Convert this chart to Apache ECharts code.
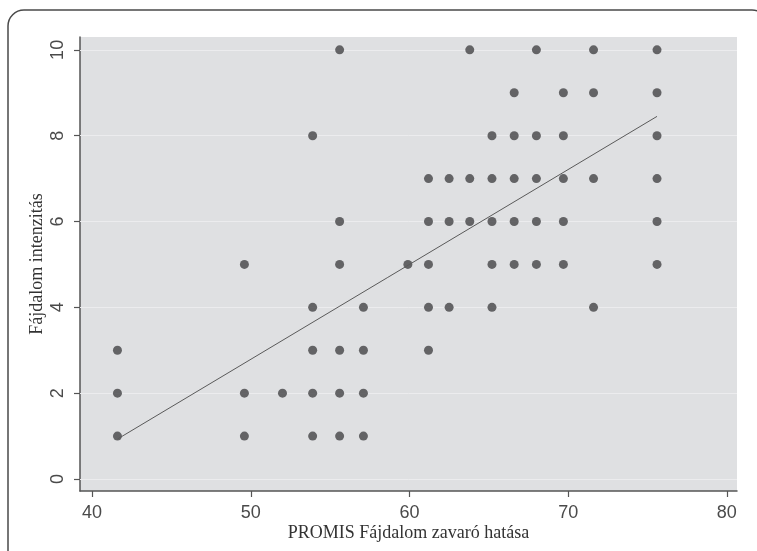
<!DOCTYPE html>
<html>
<head>
<meta charset="utf-8">
<script src="https://cdn.jsdelivr.net/npm/echarts@6/dist/echarts.min.js"></script>
<style>html,body{margin:0;padding:0;background:#fff}#c{width:757px;height:551px}</style>
</head>
<body>
<div id="c"></div>
<script>
// PROMIS T-scores (x) and pain intensity values (y) observed at each
const xValues = [41.6, 49.6, 52.0, 53.9, 55.6, 57.1, 59.9, 61.2, 62.5, 63.8, 65.2, 66.6, 68.0, 69.7, 71.6, 75.6];
const yValuesAtX = [
  [1, 2, 3],
  [1, 2, 5],
  [2],
  [1, 2, 3, 4, 8],
  [1, 2, 3, 5, 6, 10],
  [1, 2, 3, 4],
  [5],
  [3, 4, 5, 6, 7],
  [4, 6, 7],
  [6, 7, 10],
  [4, 5, 6, 7, 8],
  [5, 6, 7, 8, 9],
  [5, 6, 7, 8, 10],
  [5, 6, 7, 8, 9],
  [4, 7, 9, 10],
  [5, 6, 7, 8, 9, 10]
];
const fitLine = [[41.6, 0.93], [75.6, 8.45]];
const xTicks = [40, 50, 60, 70, 80];
const yTicks = [0, 2, 4, 6, 8, 10];
const xTitle = 'PROMIS Fájdalom zavaró hatása';
const yTitle = 'Fájdalom intenzitás';

const points = [];
xValues.forEach((x, i) => yValuesAtX[i].forEach(y => points.push([x, y])));

const chart = echarts.init(document.getElementById('c'));
chart.setOption({
  animation: false,
  backgroundColor: '#ffffff',
  graphic: [{
    type: 'rect',
    shape: { x: 8, y: 10, width: 760, height: 560, r: 16 },
    style: { fill: 'none', stroke: '#4a4a4a', lineWidth: 1.5 },
    silent: true,
    z: 100
  }],
  grid: {
    left: 80, right: 20, top: 37, bottom: 60,
    show: true, backgroundColor: '#dfe0e2', borderWidth: 0
  },
  xAxis: {
    type: 'value', min: 39.24, max: 80.64,
    name: xTitle, nameLocation: 'middle', nameGap: 33, nameMoveOverlap: false,
    nameTextStyle: { fontFamily: 'Liberation Serif', fontSize: 18, color: '#333' },
    axisLine: { show: true, onZero: false, lineStyle: { color: '#555', width: 1.5 } },
    axisTick: { show: true, length: 6, customValues: xTicks, lineStyle: { color: '#555', width: 1.2 } },
    axisLabel: { customValues: xTicks, margin: 13, fontFamily: 'Liberation Sans', fontSize: 18, color: '#4a4a4a' },
    splitLine: { show: false }
  },
  yAxis: {
    type: 'value', min: -0.28, max: 10.3,
    name: yTitle, nameLocation: 'middle', nameGap: 34, nameMoveOverlap: false,
    nameTextStyle: { fontFamily: 'Liberation Serif', fontSize: 18, color: '#333' },
    axisLine: { show: true, onZero: false, lineStyle: { color: '#555', width: 1.5 } },
    axisTick: { show: true, length: 6, customValues: yTicks, lineStyle: { color: '#555', width: 1.2 } },
    axisLabel: { customValues: yTicks, rotate: 90, margin: 13, fontFamily: 'Liberation Sans', fontSize: 18, color: '#4a4a4a' },
    splitLine: { show: false }
  },
  series: [
    {
      type: 'line',
      data: [],
      silent: true,
      z: 1,
      markLine: {
        z: 1,
        silent: true, symbol: 'none', label: { show: false },
        lineStyle: { color: '#ececee', width: 1, type: 'solid' },
        data: yTicks.map(v => ({ yAxis: v }))
      }
    },
    {
      type: 'scatter',
      data: points,
      symbol: 'circle',
      symbolSize: 9,
      itemStyle: { color: '#444446' },
      z: 3
    },
    {
      type: 'line',
      data: fitLine,
      showSymbol: false,
      lineStyle: { color: '#5a5a5a', width: 1 },
      z: 4
    }
  ]
});
</script>
</body>
</html>
